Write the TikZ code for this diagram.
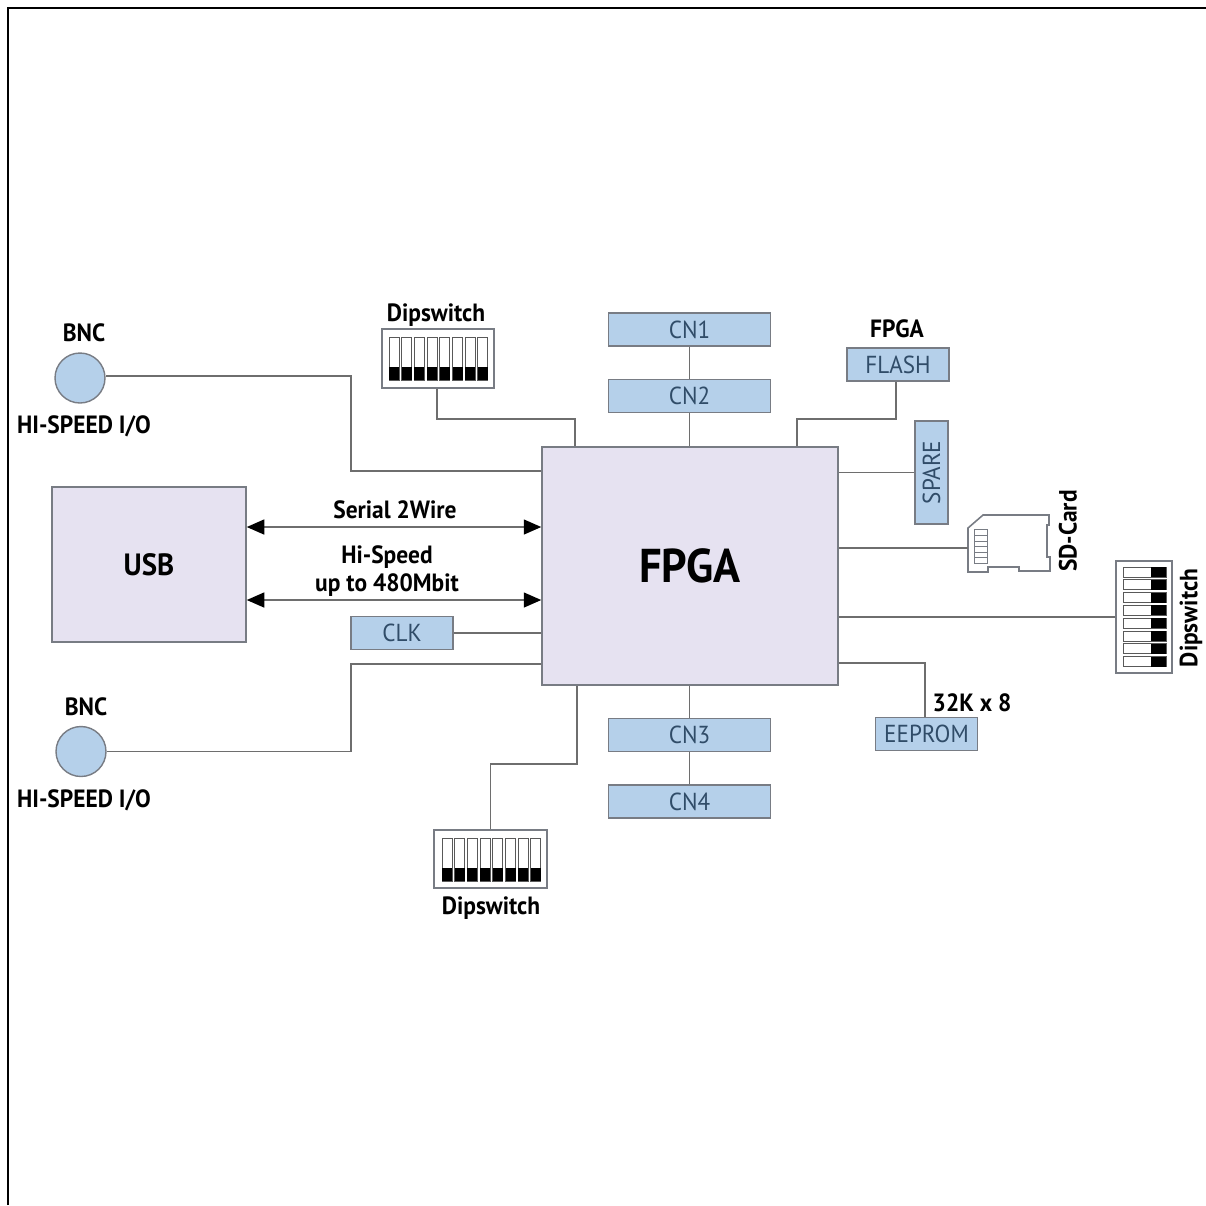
\documentclass[tikz,border=0pt]{standalone}
\usepackage{xcolor}
\usepackage{fontspec}
\setmainfont[FakeStretch=0.94]{PT Sans}
\usetikzlibrary{arrows.meta}
\definecolor{blockblue}{RGB}{181,208,234}
\definecolor{blockframe}{RGB}{120,124,132}
\definecolor{chipbg}{RGB}{230,226,241}
\definecolor{wire}{RGB}{110,110,110}
\definecolor{partext}{RGB}{48,76,104}

% eight switches of a dipswitch, upright or lying
\newcommand{\dipcolumns}[2]{%
    \foreach \i in {0,...,7} {
        \draw[switchframe] ({#1+12.7*\i},#2) rectangle ++(10,43);
        \fill[black] ({#1+12.7*\i},{#2+30}) rectangle ++(10,13);
    }}
\newcommand{\diprows}[2]{%
    \foreach \i in {0,...,7} {
        \draw[switchframe] (#1,{#2+12.8*\i}) rectangle ++(43,10);
        \fill[black] ({#1+28},{#2+12.8*\i}) rectangle ++(15,10);
    }}

\begin{document}
\begin{tikzpicture}[
        x=0.02cm, y=-0.02cm,
        part/.style={draw=blockframe, line width=0.8pt, fill=blockblue, inner sep=0pt, text=partext, font=\fontsize{14}{16}\selectfont},
        cn/.style={part, minimum width=3.24cm, minimum height=0.66cm},
        smallpart/.style={part, minimum width=2.04cm, minimum height=0.66cm},
        chip/.style={draw=blockframe, line width=0.9pt, fill=chipbg, inner sep=0pt, font=\bfseries},
        bnc/.style={circle, draw=blockframe, line width=0.8pt, fill=blockblue, minimum size=1cm, inner sep=0pt},
        dip/.style={draw=blockframe, line width=0.9pt, fill=white, inner sep=0pt},
        switchframe/.style={draw=black!65, line width=0.5pt, fill=white},
        caption/.style={inner sep=0pt, font=\fontsize{14.2}{15.5}\selectfont\bfseries, align=center},
        link/.style={draw=wire, line width=0.85pt},
        bus/.style={link, {Triangle[length=3.5mm,width=3mm,black]}-{Triangle[length=3.5mm,width=3mm,black]}}
    ]

    \useasboundingbox (0,0) rectangle (1206,1205);
    \coordinate (frameA) at (8,1205);
    \coordinate (frameB) at (8,8);
    \coordinate (frameC) at (1206,8);
    \draw[black, line width=0.6pt] (frameA) -- (frameB) -- (frameC);

    % main blocks
    \node[chip, minimum width=5.92cm, minimum height=4.76cm, font=\fontsize{27}{30}\selectfont\bfseries] (fpga) at (690,566) {FPGA};
    \node[chip, minimum width=3.88cm, minimum height=3.1cm, font=\fontsize{17.5}{20}\selectfont\bfseries] (usb) at (149,564.5) {USB};

    % connectors and memories
    \node[cn] (cn1) at (689.5,329.5) {CN1};
    \node[cn] (cn2) at (689.5,396) {CN2};
    \node[cn] (cn3) at (689.5,735) {CN3};
    \node[cn] (cn4) at (689.5,801.5) {CN4};
    \node[smallpart] (flash) at (898,364.5) {FLASH};
    \node[smallpart] (clk) at (402,633) {CLK};
    \node[smallpart] (eeprom) at (926.5,734) {EEPROM};
    \node[part, rotate=90, minimum width=2.06cm, minimum height=0.66cm] (spare) at (931.5,472.5) {SPARE};

    % BNC sockets
    \node[bnc] (bncA) at (80,378) {};
    \node[bnc] (bncB) at (81,751.5) {};
    \node[caption] (bncAtop) at (84,333) {BNC};
    \node[caption] (bncAbot) at (84,426) {HI-SPEED I/O};
    \node[caption] (bncBtop) at (86,707) {BNC};
    \node[caption] (bncBbot) at (84,800) {HI-SPEED I/O};

    % dipswitches
    \node[dip, minimum width=2.24cm, minimum height=1.18cm] (dipA) at (438,358.5) {};
    \dipcolumns{389}{337}
    \node[caption] (dipAcap) at (436,315) {Dipswitch};
    \node[dip, minimum width=2.26cm, minimum height=1.16cm] (dipB) at (490.5,859) {};
    \dipcolumns{442}{838}
    \node[caption] (dipBcap) at (491,908) {Dipswitch};
    \node[dip, minimum width=1.12cm, minimum height=2.24cm] (dipC) at (1144,617) {};
    \diprows{1123}{567}
    \node[caption, rotate=90] (dipCcap) at (1191,618) {Dipswitch};

    % SD card
    \coordinate (sd) at (968,548);
    \draw[draw=blockframe, line width=0.9pt, fill=white] (968,528) -- (983,515) -- (1049,515) -- (1049,525) -- (1047,525) -- (1047,557) -- (1050,557) -- (1050,571) -- (1019,571) -- (1019,567) -- (988,567) -- (988,572) -- (968,572) -- cycle;
    \draw[draw=blockframe, line width=0.5pt] (974,529) rectangle (987,563);
    \foreach \y in {535,541,546,552,557} {
        \draw[draw=blockframe, line width=0.4pt] (974,\y) -- (987,\y);
    }
    \node[caption, rotate=90] (sdcap) at (1068,531) {SD-Card};

    % other labels
    \node[caption] (flashcap) at (897,329) {FPGA};
    \node[caption] (eepromcap) at (972,703) {32K x 8};
    \node[caption] (serialcap) at (395,510) {Serial 2Wire};
    \node[caption] (speedcap) at (387,571) {Hi-Speed\\up to 480Mbit};

    % buses
    \draw[bus] (usb.east |- 0,527) -- (fpga.west |- 0,527);
    \draw[bus] (usb.east |- 0,600) -- (fpga.west |- 0,600);

    % wires
    \draw[link] (bncA.east |- 0,376) -- (351,376) -- (351,471) -- (fpga.west |- 0,471);
    \draw[link] (bncB.east) -- (351,751.5) -- (351,664) -- (fpga.west |- 0,664);
    \draw[link] (dipA.south -| 437,0) -- (437,419) -- (575,419) -- (fpga.north -| 575,0);
    \draw[link] (flash.south -| 896,0) -- (896,419) -- (797,419) -- (fpga.north -| 797,0);
    \draw[link] (dipB.north) -- (490.5,764) -- (577,764) -- (fpga.south -| 577,0);
    \draw[link] (fpga.east |- 0,663) -- (925,663) -- (eeprom.north -| 925,0);
    \draw[link] (cn1) -- (cn2);
    \draw[link] (cn2) -- (fpga.north -| cn2);
    \draw[link] (fpga.south -| cn3) -- (cn3);
    \draw[link] (cn3) -- (cn4);
    \draw[link] (clk.east) -- (fpga.west |- clk.east);
    \draw[link] (fpga.east |- spare) -- (spare.north);
    \draw[link] (fpga.east |- sd) -- (sd);
    \draw[link] (fpga.east |- dipC.west) -- (dipC.west);
\end{tikzpicture}
\end{document}
